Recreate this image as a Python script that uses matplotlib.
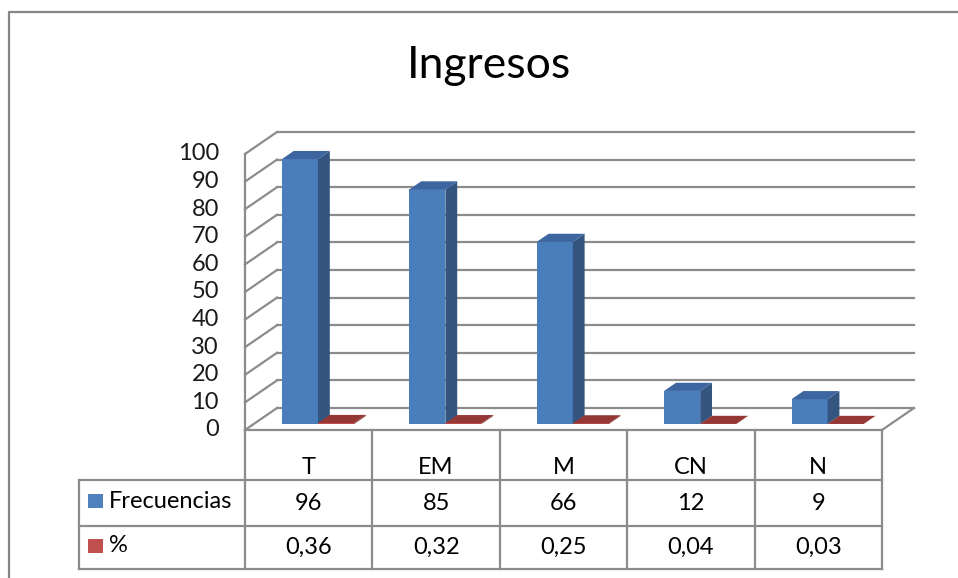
import matplotlib.pyplot as plt
from matplotlib.patches import Polygon, Rectangle
from matplotlib.lines import Line2D

# data
categorias = ['T', 'EM', 'M', 'CN', 'N']
frecuencias = [96, 85, 66, 12, 9]
porcentajes = [0.36, 0.32, 0.25, 0.04, 0.03]
series = ['Frecuencias', '%']
yticks = list(range(0, 101, 10))

plt.rcParams['font.family'] = ['Lato', 'DejaVu Sans']

W, H = 958, 578
fig = plt.figure(figsize=(W / 100, H / 100), dpi=100)
ax = fig.add_axes([0, 0, 1, 1])

# front plane: origin at pixel (245, 430), 127.4 px per category, 2.76 px per unit
X0, Y0, CW, UH = 245, 430, 127.4, 2.76
ax.set_xlim(-X0 / CW, (W - X0) / CW)
ax.set_ylim((Y0 - H) / UH, Y0 / UH)
ax.axis('off')

# depth of the 3d box (in data units)
DX = 32 / CW
DY = 22 / UH
n = len(categorias)
grid = '#8c8c8c'
lw = 1.6
fs = 17

# back wall + left wall
for v in yticks:
    ax.plot([DX, n + DX], [v + DY, v + DY], color=grid, lw=lw, zorder=1)
    ax.plot([0, DX], [v, v + DY], color=grid, lw=lw, zorder=1)
ax.plot([0, 0], [0, yticks[-1]], color=grid, lw=lw, zorder=1)
ax.plot([n, n + DX], [0, DY], color=grid, lw=lw, zorder=1)

# tick labels
for v in yticks:
    ax.text(-26 / CW, v, str(v), ha='right', va='center', fontsize=fs, color='#1a1a1a')


def bar3d(x, h, w, f0, f1, front, side, top):
    bx, by = f0 * DX, f0 * DY
    dx, dy = (f1 - f0) * DX, (f1 - f0) * DY
    ax.bar(x + bx, h, width=w, bottom=by, align='edge', color=front, lw=0, zorder=3)
    ax.add_patch(Polygon([(x + bx + w, by), (x + bx + w + dx, by + dy),
                          (x + bx + w + dx, by + dy + h), (x + bx + w, by + h)],
                         closed=True, color=side, lw=0, zorder=3))
    ax.add_patch(Polygon([(x + bx, by + h), (x + bx + w, by + h),
                          (x + bx + w + dx, by + h + dy), (x + bx + dx, by + h + dy)],
                         closed=True, color=top, lw=0, zorder=3))


bw = 0.283
gap = 0.222
for i in range(n):
    bar3d(i + gap, frecuencias[i], bw, 0.27, 0.64, '#4a7ebb', '#34557f', '#3d66a0')
    bar3d(i + gap + bw, porcentajes[i], bw, 0.27, 0.64, '#c0504d', '#7f2a28', '#953735')

# data table
r1 = (Y0 - 480) / UH
r2 = (Y0 - 526) / UH
r3 = (Y0 - 569) / UH
xl = (79 - X0) / CW
ax.plot([0, n], [0, 0], color=grid, lw=lw, zorder=2)
for r in (r1, r2, r3):
    ax.plot([xl, n], [r, r], color=grid, lw=lw, zorder=2)
ax.plot([xl, xl], [r1, r3], color=grid, lw=lw, zorder=2)
for i in range(n + 1):
    ax.plot([i, i], [0, r3], color=grid, lw=lw, zorder=2)

for i in range(n):
    ax.text(i + 0.5, (Y0 - 467) / UH, categorias[i], ha='center', va='center', fontsize=fs)
    ax.text(i + 0.5, (Y0 - 503) / UH, str(frecuencias[i]), ha='center', va='center', fontsize=fs)
    ax.text(i + 0.5, (Y0 - 547) / UH, f"{porcentajes[i]:.2f}".replace('.', ','),
            ha='center', va='center', fontsize=fs)

# legend keys in the table
sq_w, sq_h = 15 / CW, 14 / UH
for r_mid, col, name in [((Y0 - 501) / UH, '#4f81bd', series[0]), ((Y0 - 546) / UH, '#c0504d', series[1])]:
    ax.add_patch(Rectangle(((88 - X0) / CW, r_mid - sq_h / 2), sq_w, sq_h, color=col, lw=0))
    ax.text((109 - X0) / CW, r_mid, name, ha='left', va='center', fontsize=fs)

# outer chart frame
fig.add_artist(Line2D([9 / W, 9 / W, 1], [0, 1 - 12 / H, 1 - 12 / H], color='#868686', lw=1.6))

fig.text(489 / W, 1 - 65 / H, 'Ingresos', ha='center', va='center', fontsize=32)

fig.savefig('out.png', dpi=100)
